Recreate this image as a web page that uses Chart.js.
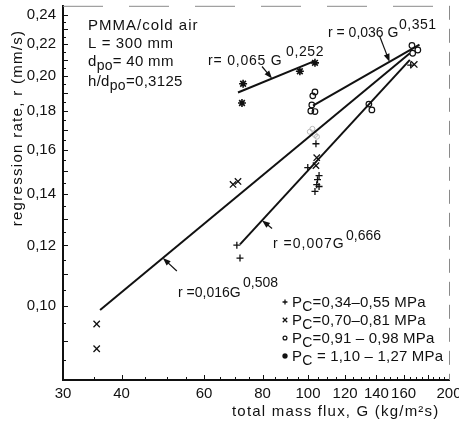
<!DOCTYPE html>
<html>
<head>
<meta charset="utf-8">
<script src="https://cdn.jsdelivr.net/npm/chart.js@4.4.0/dist/chart.umd.min.js"></script>
<style>
  html, body { margin: 0; padding: 0; background: #fff; }
  #wrap { width: 459px; height: 427px; }
</style>
</head>
<body>
<div id="wrap"><canvas id="rateChart" width="459" height="427"></canvas></div>
<script>
// G = total mass flux (kg/m2 s), r = regression rate (mm/s), grouped by chamber pressure
const plusG  = [70.5, 71.6, 99.9, 104.0, 105.6, 104.8, 104.4, 105.6, 103.5, 165.7];
const plusR  = [0.1201, 0.1155, 0.1517, 0.1630, 0.1481, 0.1463, 0.1441, 0.1433, 0.1412, 0.2066];
const crossG = [35.4, 35.4, 69.2, 70.9, 104.4, 104.0, 168.6];
const crossR = [0.0947, 0.0879, 0.1442, 0.1455, 0.1563, 0.1526, 0.2070];
const ringG  = [103.5, 102.4, 101.9, 101.4, 103.5, 134.9, 136.9, 166.7, 167.3, 171.6];
const ringR  = [0.1905, 0.1883, 0.1832, 0.1799, 0.1796, 0.1837, 0.1805, 0.2192, 0.2141, 0.2162];
const starG  = [72.7, 72.3, 96.1, 103.5];
const starR  = [0.1953, 0.1843, 0.2028, 0.2080];
// faded, barely printed rings
const fadedG = [100.9, 103.5, 102.2, 104.5];
const fadedR = [0.1690, 0.1674, 0.1705, 0.1665];

// power-law fits r = a * G^b and the G span each one is drawn over
const fitCoef = [0.016, 0.007, 0.036, 0.065];
const fitExp  = [0.508, 0.666, 0.351, 0.252];
const fitFrom = [36, 71.6, 102.5, 70.9];
const fitTo   = [165, 165, 173, 103.5];
// where each fit's arrow points, and the arrow tail offset in px
const arrowG  = [49, 79.8, 149.3, 83.8];
const arrowOff = [[14, 13], [10, 8], [-10, -26], [-10, -12]];

const legendText = ['=0,34–0,55 MPa', '=0,70–0,81 MPa', '=0,91 – 0,98 MPa', ' = 1,10 – 1,27 MPa'];

const xLabels = [30, 40, 60, 80, 100, 120, 140, 160, 200];
const yLabels = [0.10, 0.12, 0.14, 0.16, 0.18, 0.20, 0.22, 0.24];

const FONT = "'Liberation Sans', Arial, sans-serif";
const INK = '#111';

function pts(xs, ys) {
  return xs.map((g, i) => ({ x: g, y: ys[i] }));
}

function markers(label, xs, ys, style, radius, width, color) {
  return {
    label: label, data: pts(xs, ys), showLine: false,
    pointStyle: style, pointRadius: radius, borderWidth: width,
    borderColor: color || INK, backgroundColor: 'rgba(0,0,0,0)'
  };
}

function fitLine(i) {
  const ends = [fitFrom[i], fitTo[i]];
  return {
    label: 'fit' + i,
    data: ends.map(g => ({ x: g, y: fitCoef[i] * Math.pow(g, fitExp[i]) })),
    showLine: true, borderColor: INK, borderWidth: 2, pointRadius: 0, fill: false
  };
}

// text with subscript pieces, optional extra letter spacing
function rich(ctx, parts, x, y, size, spacing) {
  ctx.letterSpacing = (spacing || 0) + 'px';
  let cx = x;
  parts.forEach(p => {
    const s = p.sub ? size - 1 : size;
    ctx.font = s + 'px ' + FONT;
    const dy = p.sub ? 4 : 0;
    ctx.fillText(p.t, cx, y + dy);
    cx += ctx.measureText(p.t).width;
  });
  ctx.letterSpacing = '0px';
}

function arrow(ctx, x0, y0, x1, y1) {
  const ang = Math.atan2(y1 - y0, x1 - x0);
  const c = Math.cos(ang), s = Math.sin(ang);
  ctx.beginPath();
  ctx.moveTo(x0, y0);
  ctx.lineTo(x1 - 5 * c, y1 - 5 * s);
  ctx.lineWidth = 1.2;
  ctx.stroke();
  ctx.beginPath();
  ctx.moveTo(x1, y1);
  ctx.lineTo(x1 - 8 * c + 3 * s, y1 - 8 * s - 3 * c);
  ctx.lineTo(x1 - 8 * c - 3 * s, y1 - 8 * s + 3 * c);
  ctx.closePath();
  ctx.fill();
}

const decorPlugin = {
  id: 'decor',
  afterDraw(chart) {
    const ctx = chart.ctx;
    const xs = chart.scales.x, ys = chart.scales.y;
    const a = chart.chartArea;
    ctx.save();
    ctx.strokeStyle = INK;
    ctx.fillStyle = INK;

    // faint top and right frame
    ctx.save();
    ctx.strokeStyle = '#8a8a8a';
    ctx.lineWidth = 1;
    ctx.setLineDash([40, 26]);
    ctx.beginPath();
    ctx.moveTo(a.left, a.top + 0.5);
    ctx.lineTo(a.right, a.top + 0.5);
    ctx.stroke();
    ctx.setLineDash([14, 9]);
    ctx.beginPath();
    ctx.moveTo(a.right + 0.5, a.top);
    ctx.lineTo(a.right + 0.5, a.bottom);
    ctx.stroke();
    ctx.restore();

    // inward tick marks
    ctx.lineWidth = 1;
    ctx.beginPath();
    for (let g = 35; g < 200; g += 5) {
      const px = Math.round(xs.getPixelForValue(g)) + 0.5;
      const len = xLabels.includes(g) || g === 180 ? 5 : 3;
      ctx.moveTo(px, a.bottom);
      ctx.lineTo(px, a.bottom - len);
    }
    for (let k = 17; k <= 48; k++) {
      const v = k * 0.005;
      const py = Math.round(ys.getPixelForValue(v)) + 0.5;
      const len = k % 2 === 0 ? 5 : 3;
      ctx.moveTo(a.left, py);
      ctx.lineTo(a.left + len, py);
    }
    ctx.stroke();

    ctx.textBaseline = 'alphabetic';
    ctx.textAlign = 'left';

    // test conditions
    rich(ctx, [{ t: 'PMMA/cold air' }], 88, 30, 15, 1);
    rich(ctx, [{ t: 'L = 300 mm' }], 88, 48, 15, 0.6);
    rich(ctx, [{ t: 'd' }, { t: 'po', sub: true }, { t: '= 40 mm' }], 88, 66, 15, 0.3);
    rich(ctx, [{ t: 'h/d' }, { t: 'po', sub: true }, { t: '=0,3125' }], 88, 86, 15, 0.3);

    // fit labels, exponent raised beside each
    rich(ctx, [{ t: 'r =0,016G' }], 178, 297, 14, 0);
    rich(ctx, [{ t: '0,508' }], 243, 287, 14, 0);
    rich(ctx, [{ t: 'r =0,007G' }], 273, 248, 14, 1);
    rich(ctx, [{ t: '0,666' }], 346, 240, 14, 0);
    rich(ctx, [{ t: 'r = 0,036 G' }], 328, 37, 14, 0);
    rich(ctx, [{ t: '0,351' }], 399, 29, 14, 0.5);
    rich(ctx, [{ t: 'r= 0,065 G' }], 208, 65, 14, 0.8);
    rich(ctx, [{ t: '0,252' }], 286, 56, 14, 0.6);

    // arrows onto each fit line
    arrowG.forEach((g, i) => {
      const tx = xs.getPixelForValue(g);
      const ty = ys.getPixelForValue(fitCoef[i] * Math.pow(g, fitExp[i]));
      arrow(ctx, tx + arrowOff[i][0], ty + arrowOff[i][1], tx, ty);
    });

    // legend
    const sets = chart.data.datasets.filter(d => d.inLegend);
    sets.forEach((d, i) => {
      const base = 307 + i * 18;
      ctx.save();
      ctx.fillStyle = d.pointStyle === 'circle' ? 'rgba(0,0,0,0)' : INK;
      ctx.strokeStyle = INK;
      ctx.lineWidth = d.borderWidth;
      Chart.helpers.drawPoint(ctx, {
        pointStyle: d.pointStyle, radius: d.pointRadius * 0.7,
        borderWidth: d.borderWidth, rotation: 0
      }, 285, base - 5);
      ctx.restore();
      rich(ctx, [{ t: 'P' }, { t: 'C', sub: true }, { t: legendText[i] }], 292, base, 15, 0.2);
    });

    // axis titles
    rich(ctx, [{ t: 'total mass flux, G (kg/m²s)' }], 232, 416, 15, 1.2);
    ctx.save();
    ctx.translate(22, 128);
    ctx.rotate(-Math.PI / 2);
    ctx.textAlign = 'center';
    ctx.font = '15px ' + FONT;
    ctx.letterSpacing = '1.3px';
    ctx.fillText('regression rate, r (mm/s)', 0, 0);
    ctx.restore();

    ctx.restore();
  }
};

const datasets = [
  fitLine(0), fitLine(1), fitLine(2), fitLine(3),
  Object.assign(markers('faded', fadedG, fadedR, 'circle', 2.5, 1, '#b8b8b8'), { inLegend: false }),
  Object.assign(markers('0,34–0,55 MPa', plusG, plusR, 'cross', 3.5, 1.3), { inLegend: true }),
  Object.assign(markers('0,70–0,81 MPa', crossG, crossR, 'crossRot', 4.5, 1.3), { inLegend: true }),
  Object.assign(markers('0,91–0,98 MPa', ringG, ringR, 'circle', 2.8, 1.2), { inLegend: true }),
  Object.assign(markers('1,10–1,27 MPa', starG, starR, 'star', 4, 1.6), { inLegend: true })
];

new Chart(document.getElementById('rateChart'), {
  type: 'scatter',
  data: { datasets: datasets },
  options: {
    responsive: false,
    animation: false,
    devicePixelRatio: 1,
    layout: { padding: { top: 5, right: 10, left: 0, bottom: 0 } },
    plugins: { legend: { display: false }, tooltip: { enabled: false } },
    scales: {
      x: {
        type: 'logarithmic', min: 30, max: 200,
        afterBuildTicks: s => { s.ticks = xLabels.map(v => ({ value: v })); },
        afterFit: s => { s.height = 47; s.paddingLeft = 0; s.paddingRight = 0; },
        grid: { display: false, drawTicks: false },
        border: { display: true, color: INK, width: 2 },
        ticks: {
          autoSkip: false, maxRotation: 0, padding: 5, color: INK,
          font: { family: FONT, size: 15 },
          callback: v => String(v)
        }
      },
      y: {
        type: 'logarithmic', min: 0.08, max: 0.247,
        afterBuildTicks: s => { s.ticks = yLabels.map(v => ({ value: v })); },
        afterFit: s => { s.width = 63; s.paddingTop = 0; s.paddingBottom = 0; },
        grid: { display: false, drawTicks: false },
        border: { display: true, color: INK, width: 2 },
        ticks: {
          autoSkip: false, padding: 7, color: INK,
          font: { family: FONT, size: 15 },
          callback: v => Number(v).toFixed(2).replace('.', ',')
        }
      }
    }
  },
  plugins: [decorPlugin]
});
</script>
</body>
</html>
